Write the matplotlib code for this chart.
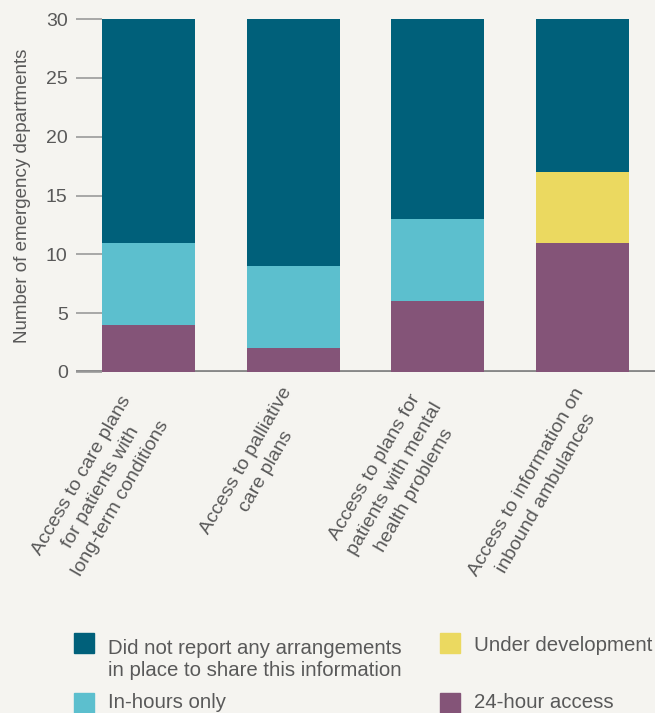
import numpy as np
import matplotlib
import matplotlib.pyplot as plt
from matplotlib.patches import Rectangle
from matplotlib.transforms import ScaledTranslation
matplotlib.use('Agg')

plt.rcParams['font.family'] = ['Liberation Sans', 'DejaVu Sans']

categories = ['Access to care plans\nfor patients with\nlong-term conditions',
              'Access to palliative\ncare plans',
              'Access to plans for\npatients with mental\nhealth problems',
              'Access to information on\ninbound ambulances']
access_24h = [4, 2, 6, 11]
under_dev = [0, 0, 0, 6]
in_hours = [7, 7, 7, 0]
not_reported = [19, 21, 17, 13]

series_labels = ['Did not report any arrangements\nin place to share this information',
                 'In-hours only', 'Under development', '24-hour access']
series_colors = ['#00607a', '#5cbfce', '#ebd960', '#845478']

bg = '#f5f4f0'
text_col = '#595959'

fig = plt.figure(figsize=(6.55, 7.13), dpi=100, facecolor=bg)
ax = fig.add_axes([76/655, 1-372/713, 579/655, 353/713], facecolor=bg)

x = np.arange(len(categories))
w = 0.643
b = np.zeros(len(categories))
for vals, col in [(access_24h, series_colors[3]), (under_dev, series_colors[2]),
                  (in_hours, series_colors[1]), (not_reported, series_colors[0])]:
    ax.bar(x, vals, w, bottom=b, color=col, zorder=2)
    b += np.array(vals)

ax.set_xlim(-0.5, 3.5)
ax.set_ylim(0, 30)
ax.set_yticks(range(0, 31, 5))
ax.tick_params(axis='y', direction='in', length=19, width=1.2, color='#9a9a9a',
               labelsize=14, labelcolor=text_col, pad=6)
for s in ax.spines.values():
    s.set_visible(False)
ax.axhline(0, color='#888888', lw=3.5, zorder=1)

ax.set_xticks(x)
ax.set_xticklabels(categories, rotation=60, ha='center', va='center',
                   rotation_mode='anchor', multialignment='center',
                   fontsize=14, color=text_col)
ax.tick_params(axis='x', length=0, pad=0)
# shift label centres (pixels) to where the reference puts them
shifts = [(-47, -115), (-37, -94), (-43, -107), (-46, -116)]
for lab, (dx, dy) in zip(ax.get_xticklabels(), shifts):
    lab.set_linespacing(1.45)
    lab.set_transform(lab.get_transform() + ScaledTranslation(dx/100, dy/100, fig.dpi_scale_trans))

ax.set_ylabel('Number of emergency departments', fontsize=13.5, color=text_col)
ax.yaxis.set_label_coords(-0.078, 0.5)

# legend
pos = [(74, 633), (74, 693), (440, 633), (440, 693)]
for (px, py), lab, col in zip(pos, series_labels, series_colors):
    fig.add_artist(Rectangle((px/655, 1-(py+20)/713), 20/655, 20/713,
                             transform=fig.transFigure, color=col))
    base = min(py + 18 + 25 * lab.count('\n'), 708)
    fig.text((px+34)/655, 1-base/713, lab, fontsize=14.7, color=text_col,
             va='baseline', linespacing=1.2)

fig.savefig('out.png', facecolor=bg)
